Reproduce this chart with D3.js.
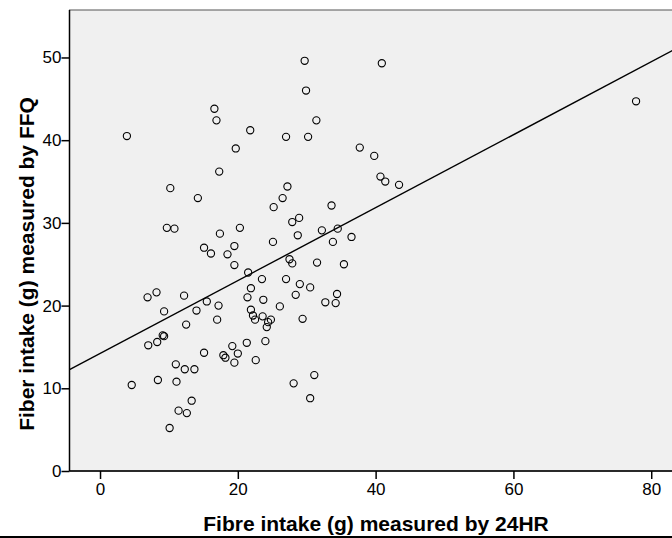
<!DOCTYPE html>
<html>
<head>
<meta charset="utf-8">
<script src="https://cdn.jsdelivr.net/npm/d3@7"></script>
<style>
  body { margin: 0; background: #fff; }
  svg { display: block; font-family: "Liberation Sans", Arial, sans-serif; }
</style>
</head>
<body>
<svg id="chart" width="672" height="538"></svg>
<script>
// fibre intake (g) by 24HR recall, one entry per subject
var fibre24hr = [29.7, 40.9, 29.9, 16.6, 16.9, 31.4, 21.8, 3.9, 27.0, 30.2,
	19.7, 37.7, 39.8, 17.3, 40.7, 41.4, 43.4, 10.2, 27.2, 14.2,
	26.5, 25.2, 33.6, 27.9, 28.9, 9.7, 10.8, 20.3, 17.4, 28.7,
	32.2, 34.5, 36.5, 25.1, 33.8, 15.1, 16.1, 19.5, 18.5, 19.5,
	21.5, 27.5, 27.9, 31.5, 35.4, 27.0, 23.5, 29.0, 30.5, 21.9,
	6.9, 8.2, 12.2, 21.4, 28.4, 34.4, 15.5, 23.7, 17.2, 26.1,
	32.7, 34.2, 9.3, 14.0, 21.9, 22.2, 22.5, 23.6, 24.8, 24.4,
	24.2, 17.0, 29.4, 12.5, 9.1, 9.3, 7.0, 8.3, 15.1, 19.2,
	21.3, 24.0, 17.9, 18.2, 20.0, 19.5, 22.6, 11.0, 12.3, 13.7,
	4.6, 8.4, 11.1, 28.1, 31.1, 30.5, 13.3, 11.4, 12.6, 10.1,
	77.8];
// fibre intake (g) by FFQ, same order
var fibreFFQ = [49.6, 49.3, 46.0, 43.8, 42.4, 42.4, 41.2, 40.5, 40.4, 40.4,
	39.0, 39.1, 38.1, 36.2, 35.6, 35.0, 34.6, 34.2, 34.4, 33.0,
	33.0, 31.9, 32.1, 30.1, 30.6, 29.4, 29.3, 29.4, 28.7, 28.5,
	29.1, 29.3, 28.3, 27.7, 27.7, 27.0, 26.3, 27.2, 26.2, 24.9,
	24.0, 25.6, 25.1, 25.2, 25.0, 23.2, 23.2, 22.6, 22.2, 22.1,
	21.0, 21.6, 21.2, 21.0, 21.3, 21.4, 20.5, 20.7, 20.0, 19.9,
	20.4, 20.3, 19.3, 19.4, 19.5, 18.8, 18.3, 18.7, 18.3, 18.0,
	17.4, 18.3, 18.4, 17.7, 16.4, 16.3, 15.2, 15.6, 14.3, 15.1,
	15.5, 15.7, 14.0, 13.7, 14.2, 13.1, 13.4, 12.9, 12.3, 12.3,
	10.4, 11.0, 10.8, 10.6, 11.6, 8.8, 8.5, 7.3, 7.0, 5.2,
	44.7];

var xTicks = [0, 20, 40, 60, 80];
var yTicks = [0, 10, 20, 30, 40, 50];

// linear fit line
var fitIntercept = 14.2;
var fitSlope = 0.441;

var svg = d3.select("#chart"),
	PLOT = { left: 69.5, top: 10, bottom: 471 },
	xScale = d3.scaleLinear()
		.domain([-4.43, 88])
		.range([PLOT.left, PLOT.left + 92.43 * 6.89]),
	yScale = d3.scaleLinear()
		.domain([0, 55.74])
		.range([PLOT.bottom, PLOT.top]);

var plotRight = xScale(88);

// plot background
svg.append("rect")
	.attr("x", PLOT.left)
	.attr("y", PLOT.top)
	.attr("width", plotRight - PLOT.left)
	.attr("height", PLOT.bottom - PLOT.top)
	.attr("fill", "#f0f0f0")
	.attr("stroke", "#555")
	.attr("stroke-width", 1);

svg.append("clipPath").attr("id", "plotclip")
	.append("rect")
	.attr("x", PLOT.left)
	.attr("y", PLOT.top)
	.attr("width", plotRight - PLOT.left)
	.attr("height", PLOT.bottom - PLOT.top);

// axes
var xAxis = d3.axisBottom(xScale).tickValues(xTicks).tickSize(8).tickPadding(4),
	yAxis = d3.axisLeft(yScale).tickValues(yTicks).tickSize(8).tickPadding(0);

var gx = svg.append("g")
	.attr("transform", "translate(0," + PLOT.bottom + ")")
	.call(xAxis);
var gy = svg.append("g")
	.attr("transform", "translate(" + PLOT.left + ",0)")
	.call(yAxis);

[gx, gy].forEach(function(g) {
	g.select(".domain").remove();
	g.selectAll(".tick line").attr("stroke", "#000").attr("stroke-width", 1.5);
	g.selectAll(".tick text")
		.attr("fill", "#000")
		.style("font-size", "17px")
		.style("font-family", "'Liberation Sans', Arial, sans-serif");
});

// axis lines
svg.append("line")
	.attr("x1", PLOT.left).attr("x2", plotRight)
	.attr("y1", PLOT.bottom).attr("y2", PLOT.bottom)
	.attr("stroke", "#000").attr("stroke-width", 1.5);
svg.append("line")
	.attr("x1", PLOT.left).attr("x2", PLOT.left)
	.attr("y1", PLOT.top).attr("y2", PLOT.bottom)
	.attr("stroke", "#000").attr("stroke-width", 1.5);

// fit line across the whole x range
var xd = xScale.domain();
svg.append("line")
	.attr("clip-path", "url(#plotclip)")
	.attr("x1", xScale(xd[0]))
	.attr("y1", yScale(fitIntercept + fitSlope * xd[0]))
	.attr("x2", xScale(xd[1]))
	.attr("y2", yScale(fitIntercept + fitSlope * xd[1]))
	.attr("stroke", "#000")
	.attr("stroke-width", 1.4);

// points
svg.append("g")
	.selectAll("circle")
	.data(fibre24hr)
	.enter().append("circle")
	.attr("cx", function(d) { return xScale(d); })
	.attr("cy", function(d, i) { return yScale(fibreFFQ[i]); })
	.attr("r", 3.6)
	.attr("fill", "none")
	.attr("stroke", "#000")
	.attr("stroke-width", 1.1);

// titles
svg.append("text")
	.attr("x", 376)
	.attr("y", 531)
	.attr("text-anchor", "middle")
	.style("font-size", "21px")
	.style("font-weight", "bold")
	.text("Fibre intake (g) measured by 24HR");

svg.append("text")
	.attr("transform", "translate(27,264) rotate(-90)")
	.attr("text-anchor", "middle")
	.attr("dy", "0.35em")
	.style("font-size", "21px")
	.style("font-weight", "bold")
	.text("Fiber intake (g) measured by FFQ");

// bottom border of the original image
svg.append("line")
	.attr("x1", 0).attr("x2", 672)
	.attr("y1", 537).attr("y2", 537)
	.attr("stroke", "#000").attr("stroke-width", 2);
</script>
</body>
</html>
